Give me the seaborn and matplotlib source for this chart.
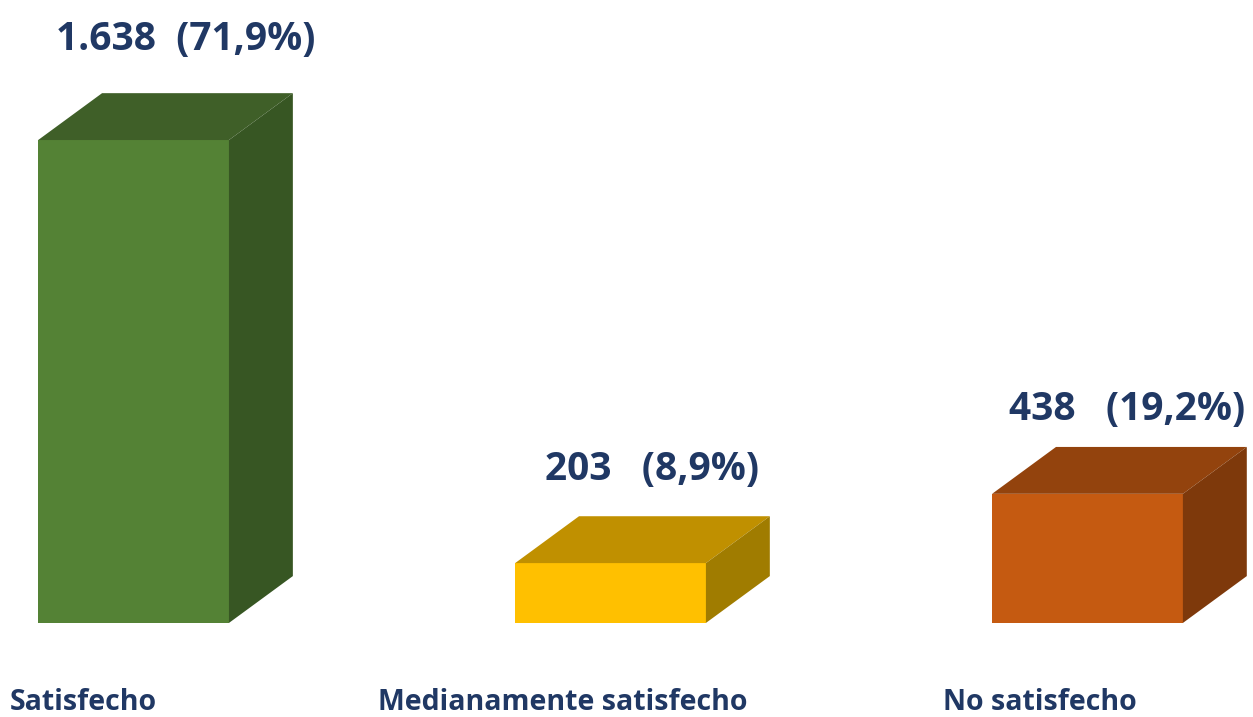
import numpy as np
import pandas as pd
import matplotlib
matplotlib.use("Agg")
import matplotlib.pyplot as plt
import seaborn as sns

# 数据
categories = ["Satisfecho", "Medianamente satisfecho", "No satisfecho"]
counts = [1638, 203, 438]
value_labels = ["1.638  (71,9%)", "203   (8,9%)", "438   (19,2%)"]

front_colors = ["#548235", "#FFC000", "#C55A11"]
top_colors = ["#3F5F28", "#C09000", "#93430D"]
side_colors = ["#375623", "#A07C00", "#7E390B"]

sns.set_theme(style="white")
plt.rcParams['font.family'] = ['Open Sans', 'DejaVu Sans']

W, H = 1253, 717
fig = plt.figure(figsize=(W / 100, H / 100), dpi=100)
ax = fig.add_axes([0, 0, 1, 1])

df = pd.DataFrame({"cat": categories, "n": counts})
sns.barplot(data=df, x="cat", y="n", hue="cat", palette=front_colors,
            width=0.4, legend=False, ax=ax, saturation=1)

ax.set_xlim(-0.28, 2.347)
ax.set_ylim(-319, 2113)
ax.axis("off")

# 3D 偏移（数据单位）
dx, dy = 0.134, 159

label_off = [183, 160, 128]
label_dx = [0.11, 0.088, 0.082]
for i, p in enumerate(ax.patches[:3]):
    x0 = p.get_x()
    w = p.get_width()
    h = p.get_height()
    p.set_edgecolor("none")
    # 顶面
    ax.fill([x0, x0 + w, x0 + w + dx, x0 + dx], [h, h, h + dy, h + dy],
            color=top_colors[i], lw=0)
    # 侧面
    ax.fill([x0 + w, x0 + w + dx, x0 + w + dx, x0 + w], [0, dy, h + dy, h],
            color=side_colors[i], lw=0)
    ax.text(x0 + w / 2 + label_dx[i], h + dy + label_off[i], value_labels[i],
            ha="center", va="center", fontsize=28, fontweight="bold",
            color="#203864")

label_x = [10, 378, 943]
for lx, c in zip(label_x, categories):
    fig.text(lx / W, 1 - 703 / H, c, ha="left", va="center", fontsize=20.5,
             fontweight="bold", color="#203864")

fig.savefig("out.png", dpi=100)
